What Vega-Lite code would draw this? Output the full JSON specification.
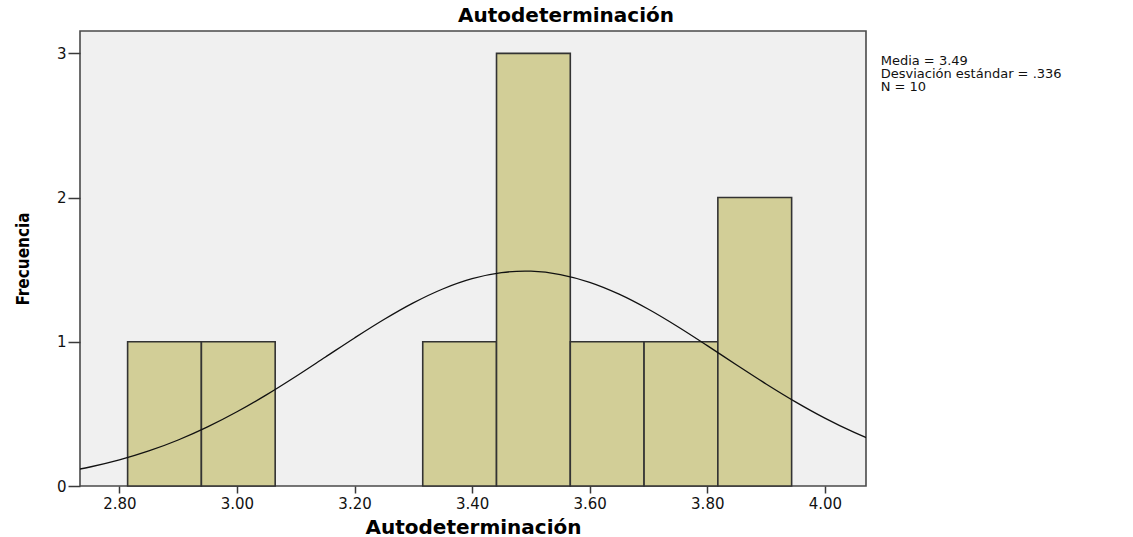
{
  "$schema": "https://vega.github.io/schema/vega-lite/v6.json",
  "autosize": "none",
  "width": 786,
  "height": 455,
  "padding": {"left": 80, "top": 31, "right": 267, "bottom": 51},
  "background": "white",
  "title": {
    "text": "Autodeterminación",
    "font": "DejaVu Sans",
    "fontSize": 20,
    "fontWeight": "bold",
    "color": "#000000",
    "anchor": "middle",
    "dx": 93,
    "offset": 5
  },
  "config": {
    "view": {"fill": "#F0F0F0", "stroke": "#4a4a4a", "strokeWidth": 1.6},
    "axis": {
      "labelFont": "DejaVu Sans",
      "labelFontSize": 15,
      "labelColor": "#111111",
      "titleFont": "DejaVu Sans",
      "titleFontSize": 20,
      "titleFontWeight": "bold",
      "titleColor": "#000000",
      "tickColor": "#3a3a3a",
      "tickWidth": 1.5,
      "domain": false,
      "grid": false
    }
  },
  "layer": [
    {
      "data": {
        "values": [
          {"bin_start": 2.814, "bin_end": 2.9395, "count": 1},
          {"bin_start": 2.9395, "bin_end": 3.065, "count": 1},
          {"bin_start": 3.316, "bin_end": 3.4415, "count": 1},
          {"bin_start": 3.4415, "bin_end": 3.567, "count": 3},
          {"bin_start": 3.567, "bin_end": 3.6925, "count": 1},
          {"bin_start": 3.6925, "bin_end": 3.818, "count": 1},
          {"bin_start": 3.818, "bin_end": 3.9435, "count": 2}
        ]
      },
      "mark": {"type": "rect", "fill": "#D2CE97", "stroke": "#333333", "strokeWidth": 1.6},
      "encoding": {
        "x": {
          "field": "bin_start",
          "type": "quantitative",
          "scale": {"domain": [2.733, 4.07], "nice": false, "zero": false},
          "axis": {
            "title": "Autodeterminación",
            "values": [2.8, 3.0, 3.2, 3.4, 3.6, 3.8, 4.0],
            "format": ".2f",
            "tickSize": 7,
            "labelPadding": 3,
            "titlePadding": 6
          }
        },
        "x2": {"field": "bin_end"},
        "y": {
          "field": "count",
          "type": "quantitative",
          "scale": {"domain": [0, 3.155], "nice": false},
          "axis": {
            "title": "Frecuencia",
            "titleFont": "'DejaVu Sans Condensed', 'Liberation Sans', sans-serif",
            "titleFontSize": 17,
            "values": [0, 1, 2, 3],
            "format": "d",
            "tickSize": 12,
            "labelPadding": 2,
            "titlePadding": 24
          }
        },
        "y2": {"datum": 0}
      }
    },
    {
      "data": {
        "values": [
          {"x": 2.70, "y": 0.0939},
          {"x": 2.75, "y": 0.1318},
          {"x": 2.80, "y": 0.1809},
          {"x": 2.85, "y": 0.2428},
          {"x": 2.90, "y": 0.3189},
          {"x": 2.95, "y": 0.4096},
          {"x": 3.00, "y": 0.5145},
          {"x": 3.05, "y": 0.6321},
          {"x": 3.10, "y": 0.7597},
          {"x": 3.15, "y": 0.8930},
          {"x": 3.20, "y": 1.0267},
          {"x": 3.25, "y": 1.1544},
          {"x": 3.30, "y": 1.2698},
          {"x": 3.35, "y": 1.3661},
          {"x": 3.40, "y": 1.4375},
          {"x": 3.45, "y": 1.4795},
          {"x": 3.49, "y": 1.4900},
          {"x": 3.50, "y": 1.4893},
          {"x": 3.55, "y": 1.4664},
          {"x": 3.60, "y": 1.4123},
          {"x": 3.65, "y": 1.3303},
          {"x": 3.70, "y": 1.2256},
          {"x": 3.75, "y": 1.1045},
          {"x": 3.80, "y": 0.9735},
          {"x": 3.85, "y": 0.8393},
          {"x": 3.90, "y": 0.7077},
          {"x": 3.95, "y": 0.5837},
          {"x": 4.00, "y": 0.4709},
          {"x": 4.05, "y": 0.3715},
          {"x": 4.10, "y": 0.2868}
        ]
      },
      "mark": {"type": "line", "color": "#111111", "strokeWidth": 1.3, "interpolate": "monotone", "clip": true},
      "encoding": {
        "x": {"field": "x", "type": "quantitative"},
        "y": {"field": "y", "type": "quantitative"}
      }
    },
    {
      "data": {"values": [{"media": 3.49, "sd": 0.336, "n": 10}]},
      "mark": {
        "type": "text",
        "text": ["Media = 3.49", "Desviación estándar = .336", "N = 10"],
        "font": "DejaVu Sans",
        "fontSize": 13,
        "lineHeight": 13,
        "align": "left",
        "baseline": "top",
        "color": "#111111"
      },
      "encoding": {
        "x": {"datum": 4.095, "type": "quantitative"},
        "y": {"datum": 2.99, "type": "quantitative"}
      }
    }
  ]
}
